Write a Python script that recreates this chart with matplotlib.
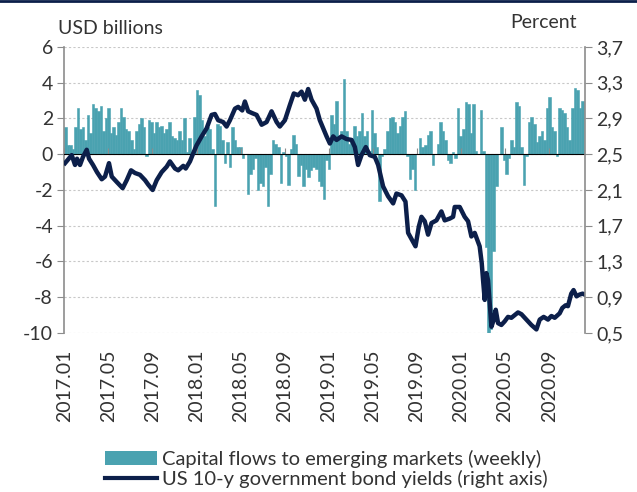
import numpy as np
import pandas as pd
import matplotlib
matplotlib.use("Agg")
import matplotlib.pyplot as plt
from matplotlib.patches import Patch
from matplotlib.lines import Line2D

# weekly capital flows to emerging markets, USD billions
flows = [
    1.5, 0.5, 0.5, 0.3, 1.5, 2.6, 1.4, 1.5, 0.8, 2.2, 1.2, 2.8, 2.6, 2.4, 2.7, 1.3,
    2.0, 2.6, 1.2, 1.5, 1.1, 1.8, 2.6, 2.1, 1.4, 1.3, 0.8, 0.3, 1.3, 1.7, 2.0, 1.5,
    -0.1, 1.9, 1.8, 1.2, 1.8, 1.5, 1.6, 1.2, 1.4, 1.8,
    1.0, 0.9, 0.8, 1.3, 0.8, 2.0, 0.1, 0.9, 0.0, 2.1, 3.6, 3.3, 1.9, 1.0, 1.5, 1.4,
    0.3, -2.9, 1.7, 1.6, 0.8, -0.5, 0.7, -0.7, 1.5, 0.8, 0.4, 0.4, -0.2, 0.0, -2.2,
    -1.1, -0.8, -0.2, -2.0, -1.6, -1.8, -0.7, -2.9, -1.1, 0.8, 0.6, 0.4,
    -1.6, 0.1, -0.1, -1.7, 0.3, 1.1, 0.6, -1.2, -0.6, -1.8, -0.8, -1.3, -0.9, -0.7,
    -0.8, -1.5, -1.8, -2.5, -0.3, -0.8, 2.2, 1.7, 3.0, 1.0, 1.3, 4.2, 1.3, 0.6, 0.8,
    1.6, 1.0, 1.3, 2.3, 1.0, 1.3, 0.2, 2.5, 1.2, 0.4, -2.6,
    -0.1, 0.3, 1.3, 2.0, 2.1, 1.8, 1.2, 1.6, 2.1, 2.4, -0.1, -1.4, -0.8, -2.0, 0.0,
    0.9, 0.4, 0.5, 1.1, 1.3, -0.6, 0.0, 0.6, 1.8, 1.3, 0.8, -0.3, -0.5, 0.1, -0.2,
    2.6, 1.0, 1.4, 2.9, 2.8, 1.2, 2.8, 0.2, 0.0, 2.5, 0.2,
    -5.2, -10.0, -9.8, -5.4, -1.8, 0.0, 1.5, -0.3, -1.1, -0.2, 0.8, 0.4, 2.9, 2.7,
    0.4, -1.7, -0.1, 1.8, 2.1, 1.7, 0.7, 1.0, 1.3, 0.8, 2.6, 3.2, 1.5, 1.3, -0.1,
    2.6, 2.5, 2.3, 1.5, 0.8, 2.6, 3.7, 3.6, 2.6, 3.0,
]

# US 10-y yields: time in months since Jan 2017, value in percent
yield_month = [
    0.07, 0.34, 0.68, 0.98, 1.16, 1.43, 1.70, 2.04, 2.25, 2.61, 2.97, 3.40, 3.70, 4.06,
    4.31, 4.76, 5.30, 5.67, 6.06, 6.42, 6.87, 7.33, 7.62, 8.02, 8.39, 8.84, 9.29, 9.59,
    10.05, 10.34, 10.80, 11.02, 11.41, 11.70, 12.01, 12.47, 12.92, 13.37, 13.67, 13.97,
    14.42, 14.73, 15.03, 15.49, 15.78, 16.15, 16.39, 16.69, 17.05, 17.45, 17.91, 18.36,
    18.81, 19.27, 19.56, 20.02, 20.47, 20.83, 21.22, 21.53, 21.83, 22.13, 22.44, 22.89,
    23.19, 23.49, 23.80, 24.10, 24.40, 24.71, 25.16, 25.61, 26.07, 26.37, 26.66, 26.97,
    27.36, 27.72, 28.18, 28.48, 28.93, 29.38, 29.84, 30.14, 30.60, 30.96, 31.20, 31.56,
    31.87, 32.17, 32.41, 32.71, 33.01, 33.32, 33.77, 34.22, 34.52, 34.98, 35.28, 35.43,
    35.88, 36.33, 36.64, 36.94, 37.24, 37.69, 37.88, 38.00, 38.15, 38.30, 38.45, 38.60,
    38.76, 38.97, 39.15, 39.36, 39.66, 39.96, 40.26, 40.57, 40.87, 41.17, 41.48, 41.93,
    42.38, 42.84, 43.14, 43.50, 43.89, 44.20, 44.50, 44.95, 45.19, 45.49, 45.70, 46.00,
    46.21, 46.48, 46.76, 47.03, 47.21,
]
yield_pct = [
    2.40, 2.44, 2.49, 2.38, 2.45, 2.38, 2.47, 2.55, 2.45, 2.38, 2.30, 2.22, 2.25, 2.40,
    2.25, 2.19, 2.12, 2.21, 2.32, 2.29, 2.27, 2.21, 2.16, 2.10, 2.21, 2.30, 2.36, 2.42,
    2.34, 2.32, 2.37, 2.34, 2.42, 2.51, 2.60, 2.70, 2.79, 2.94, 2.95, 2.88,
    2.86, 2.81, 2.88, 3.01, 3.03, 2.99, 3.09, 2.98, 2.96, 2.94, 2.83, 2.86,
    2.98, 2.86, 2.81, 2.88, 3.05, 3.18, 3.16, 3.20, 3.11, 3.23, 3.11, 3.01,
    2.88, 2.79, 2.70, 2.62, 2.70, 2.66, 2.70, 2.67, 2.66, 2.58, 2.38, 2.49,
    2.58, 2.49, 2.47, 2.38, 2.14, 2.03, 1.95, 2.06, 2.04, 1.97, 1.62, 1.54,
    1.47, 1.69, 1.80, 1.75, 1.60, 1.73, 1.76, 1.86, 1.76, 1.78, 1.80, 1.91,
    1.91, 1.80, 1.75, 1.58, 1.62, 1.47, 1.28, 1.09, 0.87, 1.17, 1.09, 0.83,
    0.57, 0.65, 0.76, 0.61, 0.59, 0.63, 0.68, 0.67, 0.70, 0.73, 0.71, 0.65,
    0.59, 0.54, 0.65, 0.68, 0.65, 0.69, 0.67, 0.72, 0.78, 0.81, 0.80, 0.94,
    0.98, 0.91, 0.93, 0.94, 0.93,
]

tick_months = list(range(0, 48, 4))
tick_labels = list(pd.date_range("2017-01-01", periods=12, freq="4MS").strftime("%Y.%m"))
left_ticks = list(range(-10, 7, 2))
right_ticks = [0.5, 0.9, 1.3, 1.7, 2.1, 2.5, 2.9, 3.3, 3.7]

bar_color = "#4aa2b0"
line_color = "#0c1f4a"
text_color = "#333333"
axis_gray = "#8c8c8c"

plt.rcParams["font.family"] = ["Lato", "DejaVu Sans"]
plt.rcParams["font.size"] = 14

fig = plt.figure(figsize=(6.37, 4.92), dpi=100)
ax = fig.add_axes([0.1005, 0.3232, 0.8179, 0.5813])

week = 12 / 52.18
x_bars = 0.1 + np.arange(len(flows)) * week
ax.bar(x_bars, flows, width=week, color=bar_color, edgecolor=bar_color,
       linewidth=0.4, zorder=2)

ax.set_xlim(-0.02, 47.25)
ax.set_ylim(-10, 6)
ax.set_yticks(left_ticks)
ax.set_yticklabels([str(v) for v in left_ticks])
ax.yaxis.grid(True, linestyle=(0, (2, 2)), color="#c8c8c8", linewidth=0.8, zorder=0)
ax.set_axisbelow(True)

for side in ["top", "bottom", "right"]:
    ax.spines[side].set_visible(False)
ax.spines["left"].set_color(axis_gray)
ax.spines["left"].set_linewidth(1.2)
ax.tick_params(axis="y", colors=text_color, length=5, color=axis_gray, pad=3)

ax.set_xticks(tick_months)
ax.set_xticklabels(tick_labels, rotation=90)
ax.tick_params(axis="x", length=0, pad=12, colors=text_color)

# zero line with the month ticks on it
zero = ax.secondary_xaxis(10 / 16)
zero.set_xticks(tick_months)
zero.set_xticklabels([])
zero.spines["bottom"].set_color(axis_gray)
zero.spines["bottom"].set_linewidth(1.5)
zero.tick_params(axis="x", length=4, color=axis_gray, direction="out")
zero.set_zorder(3)

ax2 = ax.twinx()
ax2.plot(yield_month, yield_pct, color=line_color, linewidth=3.2, solid_joinstyle="round")
ax2.set_ylim(0.5, 3.7)
ax2.set_yticks(right_ticks)
ax2.set_yticklabels([f"{v:.1f}".replace(".", ",") for v in right_ticks])
for side in ["top", "bottom", "left"]:
    ax2.spines[side].set_visible(False)
ax2.spines["right"].set_color(axis_gray)
ax2.spines["right"].set_linewidth(1.2)
ax2.tick_params(axis="y", colors=text_color, length=5, color=axis_gray, pad=3)

fig.text(58 / 637, 1 - 28 / 492, "USD billions", color=text_color, va="center", ha="left")
fig.text(577 / 637, 1 - 22 / 492, "Percent", color=text_color, va="center", ha="right")

handles = [
    Patch(facecolor=bar_color, edgecolor="none"),
    Line2D([], [], color=line_color, linewidth=3),
]
labels = [
    "Capital flows to emerging markets (weekly)",
    "US 10-y government bond yields (right axis)",
]
fig.legend(handles, labels, loc="center", bbox_to_anchor=(0.512, 1 - 469 / 492),
           frameon=False, handlelength=2.6, handletextpad=0.2, labelspacing=0.1,
           labelcolor=text_color, fontsize=14.5)

fig.add_artist(Line2D([0, 1], [0.998, 0.998], color=line_color, linewidth=2,
                      transform=fig.transFigure))

fig.savefig("out.png", dpi=100)
